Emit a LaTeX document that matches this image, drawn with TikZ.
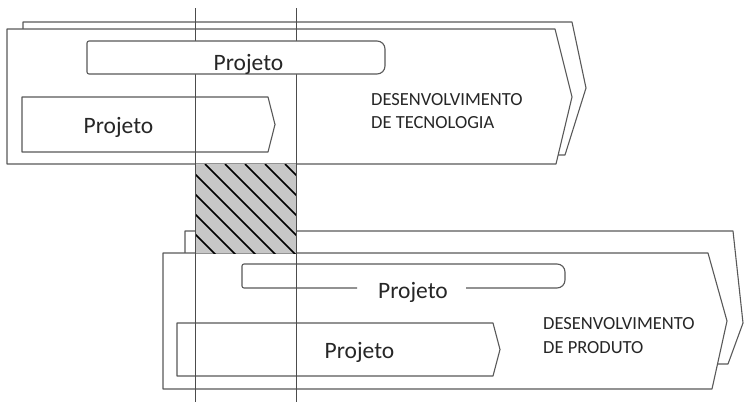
\documentclass[tikz,border=0pt]{standalone}
\usepackage{fontspec}
\setmainfont{Carlito}
\begin{document}
\begin{tikzpicture}[x=1pt,y=-1pt,line join=round,
  blk/.style={draw=black!65,line width=1.1pt},
  blkfill/.style={blk,fill=white},
  guide/.style={draw=black!70,line width=0.8pt},
  hatchline/.style={draw=black,line width=1.5pt},
  proj/.style={font=\fontsize{23.5}{28}\selectfont,text=black!85,inner sep=0pt,anchor=base},
  area/.style={font=\fontsize{18.5}{22}\selectfont,text=black!85,inner sep=0pt,anchor=base west}]
\useasboundingbox (0,0) rectangle (744,402);
% top block (Desenvolvimento de Tecnologia)
\draw[blk] (23,29) -- (23,22) -- (572,22) -- (586,88) -- (565,155) -- (557,155);
\draw[blkfill] (7,29) -- (555,29) -- (572,97) -- (556,164) -- (7,164) -- cycle;
\draw[blk] (22,97) -- (268,97) -- (275,124.5) -- (268,152) -- (22,152) -- cycle;
% lower block (Desenvolvimento de Produto)
\draw[blk] (185,253) -- (185,231) -- (733,231) -- (743,323) -- (728,364) -- (718,364);
\draw[blkfill] (163,253) -- (708,253) -- (727,321) -- (712,389) -- (163,389) -- cycle;
\draw[blk] (177,323) -- (493,323) -- (500,349.5) -- (493,376) -- (177,376) -- cycle;
\draw[blk] (357,288) [rounded corners=2] -- (242,288) -- (242,264) [rounded corners=8] -- (565,264) -- (565,288) [sharp corners] -- (466,288);
% hatched overlap
\fill[black!22] (195,164) rectangle (296,253);
\begin{scope}
  \clip (195,164) rectangle (296,253);
  \foreach \k in {85,105,...,305} \draw[hatchline] (\k,164) -- ++(110,110);
\end{scope}
% vertical guide lines
\coordinate (g1t) at (195,8);
\coordinate (g1b) at (195,402);
\coordinate (g2t) at (296,8);
\coordinate (g2b) at (296,402);
\draw[guide] (g1t) -- (g1b);
\draw[guide] (g2t) -- (g2b);
% top bar in top block
\draw[blkfill] (87,74) [rounded corners=2] -- (87,41) [rounded corners=8] -- (385,41) -- (385,74) [rounded corners=2] -- cycle;
% texts
\node[proj] (p1) at (248.5,70) {Projeto};
\node[proj] (p2) at (118.5,133) {Projeto};
\node[proj] (p3) at (413,298) {Projeto};
\node[proj] (p4) at (359.5,358) {Projeto};
\node[area] (t1) at (371,105) {DESENVOLVIMENTO};
\node[area] (t2) at (371,128) {DE TECNOLOGIA};
\node[area] (t3) at (543,329) {DESENVOLVIMENTO};
\node[area] (t4) at (543,353) {DE PRODUTO};
\end{tikzpicture}
\end{document}
